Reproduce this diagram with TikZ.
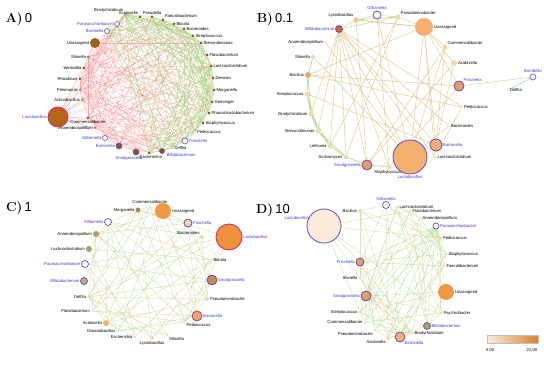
\documentclass[tikz,border=0pt]{standalone}
\usepackage{fontspec}
\newfontfamily\arial{Liberation Sans}
\usepackage{tikz}
\usetikzlibrary{positioning,backgrounds}

\definecolor{olv}{HTML}{7A5E12}
\definecolor{brn}{HTML}{A0601A}
\definecolor{org}{HTML}{F5B070}
\definecolor{dorg}{HTML}{F0923A}
\definecolor{pale}{HTML}{EEDCA8}
\definecolor{ring}{HTML}{6A44C8}
\definecolor{rimpk}{HTML}{D8307A}
\definecolor{gblue}{HTML}{3A3AE0}
\definecolor{eneg}{HTML}{F07878}
\definecolor{epos}{HTML}{98CC68}
\definecolor{etan}{HTML}{DCC890}

\tikzset{
  tx/.style={circle,inner sep=0pt,minimum size=#1},
  tx/.default=4pt,
  lab/.style={font=\arial\fontsize{4.2}{5}\selectfont,inner sep=0.6pt},
  blab/.style={lab,text=gblue},
  neglink/.style={eneg,line width=0.3pt,opacity=0.5},
  poslink/.style={epos,line width=0.35pt,opacity=0.7},
  tanlink/.style={etan,line width=0.45pt},
  ttl/.style={font=\fontsize{13}{13}\selectfont,inner sep=0pt},
}

\begin{document}
\begin{tikzpicture}[x=1pt,y=-1pt]
\useasboundingbox (0,0) rectangle (550,369);

% titles
\node[ttl] (tA) at (19,19) {\bfseries A)\,\arial\mdseries 0};
\node[ttl] (tB) at (275,19) {\bfseries B)\,\arial\mdseries 0.1};
\node[ttl] (tC) at (19,208) {\bfseries C)\,\arial\mdseries 1};
\node[ttl] (tD) at (273,210) {\bfseries D)\,\arial\mdseries 10};

% ---------- A) 0
\foreach \n/\x/\y/\r/\f/\p/\t in {
  1/95/43/10pt/brn/left/Unassigned, 2/88/57/2pt/olv/left/Shinella,
  3/84/68/3pt/olv/left/Weissella, 4/80/79/3pt/olv/left/Rhizobium,
  5/80/90/2pt/olv/left/Pelomonas, 6/82/100/2pt/olv/left/Actinobacillus,
  8/88/118/3pt/olv/below/Commensalibacter, 9/95/128/2pt/olv/left/Anaerobiospirillum,
  15/172/148/3pt/pale!80!olv/right/Delftia,
  17/195/132/2pt/pale/right/Pediococcus, 18/203/123/3pt/olv/right/Staphylococcus,
  19/209/113/3pt/olv/right/Phascolarctobacterium, 20/212/102/3pt/olv/right/Gemmiger,
  21/214/90/3pt/olv/right/Morganella, 22/213/78/3pt/olv/right/Devosia,
  23/211/66/3pt/olv/right/Lachnoclostridium, 24/207/55/3pt/olv/right/Flavobacterium,
  25/201/43/3pt/olv/right/Brevundimonas, 26/193/36/3pt/olv/right/Streptococcus,
  27/184/29/3pt/olv/right/Bacteroides, 28/174/24/3pt/olv/right/Blautia,
  29/163/20/3pt/olv/above right/Faecalibacterium, 30/152/17/3pt/olv/above/Pseudella,
  31/140/17/3pt/olv/above left/Acidovella, 32/125/14/2pt/olv/above left/Bradyrhizobium}
  \node[tx=\r,fill=\f,label={[lab]\p:\t}] (a\n) at (\x,\y) {};
\node[tx=3pt,fill=olv,label={[lab,xshift=2pt]below:Escherichia}] (a13) at (149,153) {};
\node[tx=20pt,fill=brn!80!orange,draw=rimpk,line width=0.9pt,label={[blab]left:Lactobacillus}] (a7) at (58,117) {};
\node[tx=5pt,fill=white,draw=ring,line width=0.6pt,label={[blab]left:Gilliamella}] (a10) at (105,138) {};
\node[tx=6pt,fill=olv,draw=ring,line width=0.6pt,label={[blab]left:Bartonella}] (a11) at (119,146) {};
\node[tx=6pt,fill=olv,draw=ring,line width=0.6pt,label={[blab,xshift=-7pt]below:Snodgrassella}] (a12) at (136,152) {};
\node[tx=5pt,fill=olv,draw=ring,line width=0.6pt,label={[blab,xshift=2pt]below right:Bifidobacterium}] (a14) at (162,151) {};
\node[tx=6pt,fill=white,draw=ring,line width=0.6pt,label={[blab]right:Frischella}] (a16) at (185,141) {};
\node[tx=5pt,fill=white,draw=ring,line width=0.6pt,label={[blab]left:Parasaccharibacter}] (a33) at (117,24) {};
\node[tx=5pt,fill=white,draw=ring,line width=0.6pt,label={[blab]left:Bombella}] (a34) at (107,31) {};
\begin{pgfonlayer}{background}
\foreach \i in {1,...,34}{
  \foreach \j in {1,...,34}{
    \pgfmathtruncatemacro\k{mod(\i*\i*7+\j*13+\i*\j*3,9)}
    \ifnum\i<\j \ifnum\k<4
      \ifnum\i<13 \draw[neglink] (a\i) -- (a\j); \else \draw[poslink] (a\i) -- (a\j); \fi
    \fi\fi
  }
}
\end{pgfonlayer}

% ---------- B) 0.1
\foreach \n/\x/\y/\r/\f/\p/\t in {
  2/356/20/5pt/org!80/above left/Lysinibacillus, 4/398/17/5pt/pale/above right/Pseudaminobacter,
  5/424/27/18pt/org/right/Unassigned, 6/445/47/5pt/pale/above right/Commensalibacter,
  7/454/63/6pt/pale/right/Acidovella, 9/462/107/2pt/pale/right/Pediococcus,
  10/449/126/2pt/pale/right/Bacteroides, 12/435/157/3pt/pale/right/Lachnoclostridium,
  14/389/167/5pt/pale/below/Staphylococcus, 16/346/157/5pt/pale/left/Actinomyces,
  17/330/146/5pt/pale/left/Leifsonia, 18/318/131/5pt/pale/left/Brevundimonas,
  19/311/114/5pt/pale/left/Bradyrhizobium, 20/307/94/5pt/pale/left/Streptococcus,
  21/308/75/6pt/org!90!brn/left/Bacillus, 22/313/57/4pt/pale/left/Shinella,
  23/325/42/2pt/pale/left/Anaerobiospirillum, 25/508/90/2pt/pale/right/Delftia}
  \node[tx=\r,fill=\f,label={[lab]\p:\t}] (b\n) at (\x,\y) {};
\node[tx=7pt,fill=brn!80!org,draw=rimpk!60!ring,line width=0.8pt,label={[blab]left:Bifidobacterium}] (b1) at (339,29) {};
\node[tx=8pt,fill=white,draw=ring,line width=0.8pt,label={[blab]above:Gilliamella}] (b3) at (377,15) {};
\node[tx=10pt,fill=org!80!brn,draw=ring,line width=0.8pt,label={[blab]above right:Frischella}] (b8) at (459,86) {};
\node[tx=12pt,fill=org,draw=ring,line width=0.8pt,label={[blab]right:Bartonella}] (b11) at (436,145) {};
\node[tx=34pt,fill=org,draw=ring,line width=0.8pt,label={[blab]below:Lactobacillus}] (b13) at (410,157) {};
\node[tx=10pt,fill=org!80!brn,draw=ring,line width=0.8pt,label={[blab]left:Snodgrassella}] (b15) at (367,165) {};
\node[tx=6pt,fill=white,draw=ring,line width=0.6pt,label={[blab]above:Bombella}] (b24) at (533,77) {};
\begin{pgfonlayer}{background}
\foreach \a/\b in {1/13,1/11,1/15,1/14,1/12,1/17,1/16,1/18,1/10,1/19,1/9,5/13,5/11,5/7,5/6,5/8,5/12,5/21,5/2,
  2/3,3/4,4/5,2/5,1/2,1/4,8/24,21/9,21/8,22/13,20/11,23/13,4/16,4/17,3/13,6/13,6/11,7/11,7/15,9/12,10/13,14/8,3/14,2/15,6/15}
  \draw[tanlink] (b\a) -- (b\b);
\foreach \a/\b in {22/21,21/20,20/19,19/18,18/17,17/16,16/15,21/19,20/18,19/17,18/16,24/25,15/14,2/4}
  \draw[poslink,line width=0.7pt] (b\a) -- (b\b);
\end{pgfonlayer}

% ---------- C) 1
\foreach \n/\x/\y/\r/\f/\p/\t in {
  1/138/210/5pt/olv!60!pale/left/Morganella, 2/150/206/2pt/pale/above/Commensalibacter,
  3/163/211/16pt/dorg!80!org/right/Unassigned, 5/202/237/4pt/pale/above left/Bacteroides,
  7/211/260/3pt/pale/right/Blautia, 9/207/299/4pt/pale/right/Pseudaminobacter,
  11/185/322/2pt/pale/below right/Pediococcus, 12/167/335/3pt/pale/below right/Shinella,
  13/152/338/4pt/pale/below/Lysinibacillus, 14/135/337/3pt/pale/left/Escherichia,
  15/118/331/3pt/pale/left/Oceanobacillus, 16/106/323/6pt/org/left/Acidovella,
  17/92/311/2pt/pale/left/Flavobacterium, 18/88/297/2pt/pale/left/Delftia,
  21/89/249/6pt/olv!50!pale/left/Lachnoclostridium, 22/96/234/6pt/olv!50!pale/left/Anaerobiospirillum}
  \node[tx=\r,fill=\f,label={[lab]\p:\t}] (c\n) at (\x,\y) {};
\node[tx=8pt,fill=pale,draw=ring,line width=0.8pt,label={[blab]right:Frischella}] (c4) at (188,223) {};
\node[tx=26pt,fill=dorg,draw=rimpk,line width=0.9pt,label={[blab]right:Lactobacillus}] (c6) at (229,237) {};
\node[tx=10pt,fill=olv!40!org,draw=ring,line width=0.8pt,label={[blab]right:Snodgrassella}] (c8) at (212,280) {};
\node[tx=10pt,fill=org!90!brn,draw=rimpk!70!ring,line width=0.8pt,label={[blab]right:Bartonella}] (c10) at (197,316) {};
\node[tx=7pt,fill=olv!40!pale,draw=ring,line width=0.7pt,label={[blab]left:Bifidobacterium}] (c19) at (84,281) {};
\node[tx=7pt,fill=white,draw=ring,line width=0.7pt,label={[blab]left:Parasaccharibacter}] (c20) at (85,264) {};
\node[tx=7pt,fill=white,draw=ring,line width=0.7pt,label={[blab]left:Gilliamella}] (c23) at (108,222) {};
\begin{pgfonlayer}{background}
\foreach \i in {1,...,23}{
  \foreach \j in {1,...,23}{
    \pgfmathtruncatemacro\k{mod(\i*\i*5+\j*11+\i*\j*7,7)}
    \ifnum\i<\j \ifnum\k<2
      \ifnum\k=0 \draw[poslink,opacity=0.55] (c\i) -- (c\j); \else \draw[tanlink,opacity=0.6] (c\i) -- (c\j); \fi
    \fi\fi
  }
}
\end{pgfonlayer}

% ---------- D) 10
\foreach \n/\x/\y/\r/\f/\p/\t in {
  2/360/211/4pt/pale/left/Bacillus, 4/397/207/3pt/pale/right/Lachnoclostridium,
  5/410/211/3pt/pale/right/Flavobacterium, 6/420/218/3pt/pale/right/Anaerobiospirillum,
  8/440/238/4pt/pale/right/Pediococcus, 9/446/254/3pt/pale/right/Staphylococcus,
  10/444/266/3pt/pale/right/Faecalibacterium, 11/446/292/16pt/dorg!80!org/right/Unassigned,
  12/441/313/3pt/pale/right/Psychrobacter, 14/412/333/3pt/pale/right/Bradyrhizobium,
  16/388/338/4pt/pale/below left/Acidovella, 17/375/330/3pt/pale/below left/Pseudaminobacter,
  18/365/322/3pt/pale/left/Commensalibacter, 19/360/312/3pt/pale/left/Streptococcus,
  21/360/278/3pt/pale/left/Shinella}
  \node[tx=\r,fill=\f,label={[lab]\p:\t}] (d\n) at (\x,\y) {};
\node[tx=34pt,fill=org!25,draw=ring,line width=0.8pt,label={[blab,yshift=-7pt,xshift=-2pt]above left:Lactobacillus}] (d1) at (324,226) {};
\node[tx=7pt,fill=white,draw=ring,line width=0.7pt,label={[blab]above:Gilliamella}] (d3) at (386,205) {};
\node[tx=6pt,fill=white,draw=gblue,line width=0.6pt,label={[blab]right:Parasaccharibacter}] (d7) at (436,226) {};
\node[tx=7pt,fill=olv!50!pale,draw=ring,line width=0.7pt,label={[blab]right:Bifidobacterium}] (d13) at (427,326) {};
\node[tx=10pt,fill=org,draw=ring,line width=0.8pt,label={[blab]below right:Bartonella}] (d15) at (400,337) {};
\node[tx=10pt,fill=org!80!brn,draw=ring,line width=0.8pt,label={[blab]left:Snodgrassella}] (d20) at (366,296) {};
\node[tx=8pt,fill=org!80!brn,draw=ring,line width=0.8pt,label={[blab]left:Frischella}] (d22) at (360,262) {};
\begin{pgfonlayer}{background}
\foreach \i in {1,...,22}{
  \foreach \j in {1,...,22}{
    \pgfmathtruncatemacro\k{mod(\i*\i*3+\j*7+\i*\j*5,7)}
    \ifnum\i<\j \ifnum\k<2
      \ifnum\k=0 \draw[poslink,opacity=0.55] (d\i) -- (d\j); \else \draw[tanlink,opacity=0.6] (d\i) -- (d\j); \fi
    \fi\fi
  }
}
\end{pgfonlayer}

% colour scale
\shade[left color=org!25,right color=dorg!70!brn,draw=gray!50,line width=0.3pt] (487,335) rectangle (538,343);
\node[lab] (lo) at (490,350) {3.00};
\node[lab] (hi) at (532,350) {22.00};
\end{tikzpicture}
\end{document}
